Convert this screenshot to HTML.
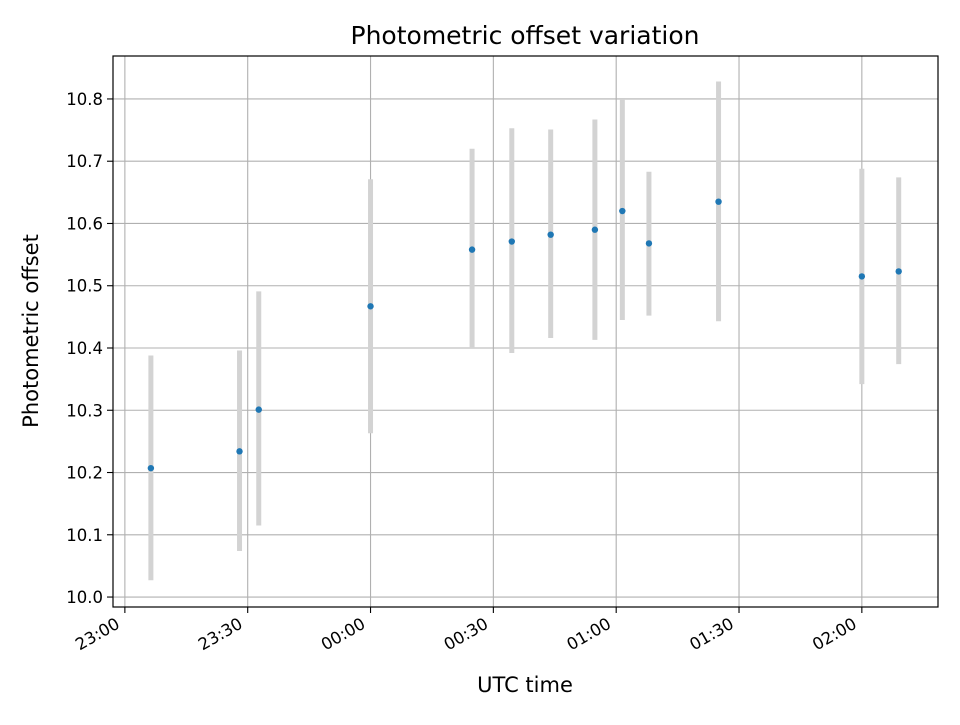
<!DOCTYPE html>
<html><head><meta charset="utf-8"><style>
body{margin:0;background:#fff;}
svg text{font-family:"DejaVu Sans","Liberation Sans",sans-serif;fill:#000;}
</style></head><body>
<svg id="chart" width="960" height="720" xmlns="http://www.w3.org/2000/svg">
<rect width="960" height="720" fill="#fff"/>
<text x="525" y="44" font-size="25" text-anchor="middle">Photometric offset variation</text>
<text x="525" y="692" font-size="21" text-anchor="middle">UTC time</text>
<text transform="translate(38,331) rotate(-90)" font-size="21" text-anchor="middle">Photometric offset</text>
<g id="grid"></g>
<g id="marks"></g>
<g id="axes"></g>
<rect x="113" y="56" width="825" height="551" fill="none" stroke="#000" stroke-width="1.2"/>
</svg>
<script>
// minutes after 23:00 UTC
const times = [6.35, 28, 32.7, 60, 84.8, 94.5, 104, 114.8, 121.5, 128, 145, 180, 189];
const offsets = [10.207, 10.234, 10.301, 10.467, 10.558, 10.571, 10.582, 10.590, 10.620, 10.568, 10.635, 10.515, 10.523];
const lowers = [10.027, 10.074, 10.115, 10.263, 10.400, 10.392, 10.416, 10.413, 10.445, 10.452, 10.443, 10.342, 10.374];
const uppers = [10.388, 10.396, 10.491, 10.671, 10.720, 10.753, 10.751, 10.767, 10.800, 10.683, 10.828, 10.688, 10.674];
const xTickMinutes = [0, 30, 60, 90, 120, 150, 180];
const xTickLabels = ["23:00", "23:30", "00:00", "00:30", "01:00", "01:30", "02:00"];
const yTicks = [10.0, 10.1, 10.2, 10.3, 10.4, 10.5, 10.6, 10.7, 10.8];

const L=113,R=938,T=56,B=607;
const xMin=-2.9,xMax=198.6,yMin=9.984,yMax=10.869;
const xs=m=>L+(m-xMin)/(xMax-xMin)*(R-L);
const ys=v=>B-(v-yMin)/(yMax-yMin)*(B-T);
const NS="http://www.w3.org/2000/svg";
function mk(tag,attrs,parent){const e=document.createElementNS(NS,tag);for(const k in attrs)e.setAttribute(k,attrs[k]);parent.appendChild(e);return e;}
const grid=document.getElementById('grid'),marks=document.getElementById('marks'),axes=document.getElementById('axes');

xTickMinutes.forEach((m,i)=>{
  const x=xs(m);
  const g=mk('line',{x1:x,x2:x,y1:T,y2:B,stroke:'#b0b0b0','stroke-width':1.1},grid);
  
  
  const t=mk('line',{x1:x,x2:x,y1:B,y2:B+6,stroke:'#000','stroke-width':1.1},axes);
  
  
  const lb=mk('text',{transform:`translate(${x-4},${B+20}) rotate(-30)`,'font-size':16.5,'text-anchor':'end'},axes);
  lb.textContent=xTickLabels[i];
  
  
});
yTicks.forEach(v=>{
  const y=ys(v);
  const g=mk('line',{x1:L,x2:R,y1:y,y2:y,stroke:'#b0b0b0','stroke-width':1.1},grid);
  
  
  const t=mk('line',{x1:L-6,x2:L,y1:y,y2:y,stroke:'#000','stroke-width':1.1},axes);
  
  
  const lb=mk('text',{x:L-10,y:y+6,'font-size':16.5,'text-anchor':'end'},axes);
  lb.textContent=v.toFixed(1);
  
  
});
times.forEach((m,i)=>{
  const x=xs(m);
  const eb=mk('line',{x1:x,x2:x,y1:ys(lowers[i]),y2:ys(uppers[i]),stroke:'#d3d3d3','stroke-width':5},marks);
  
  
});
times.forEach((m,i)=>{
  const p=mk('circle',{cx:xs(m),cy:ys(offsets[i]),r:3.2,fill:'#1f77b4'},marks);
  
  
});
</script>
</body></html>
